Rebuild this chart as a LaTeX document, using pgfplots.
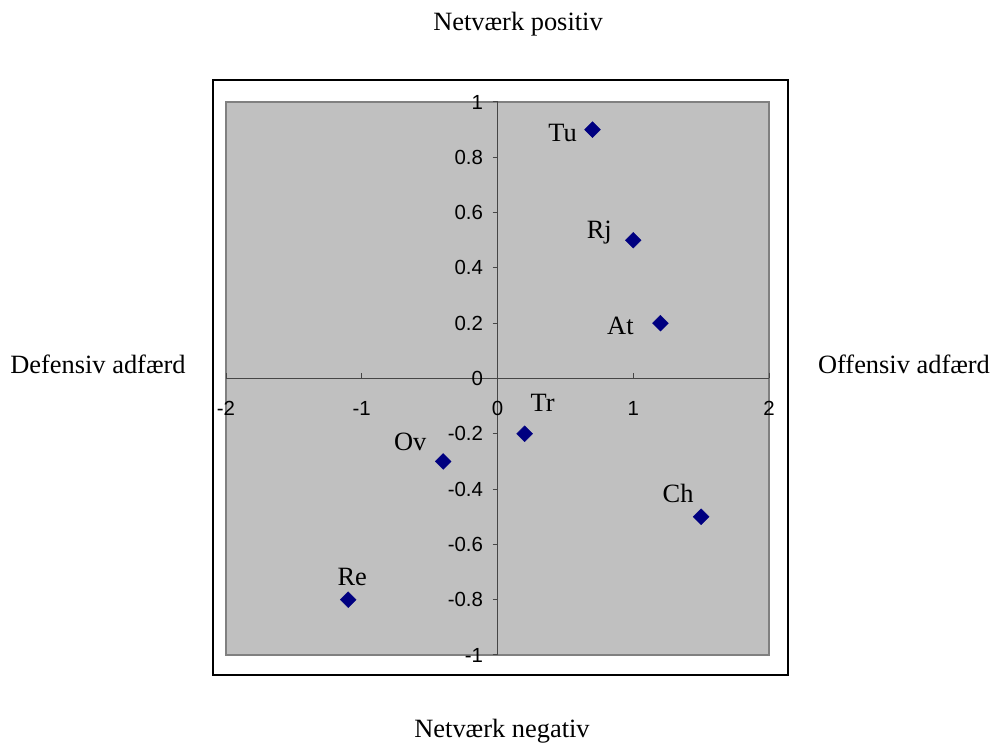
\documentclass[border=0pt]{standalone}
\usepackage{pgfplots}
\pgfplotsset{compat=1.18}
\usepackage{fontspec}
\setmainfont{Liberation Serif}
\newfontfamily\arial{Liberation Sans}
\definecolor{plotgray}{RGB}{192,192,192}
\definecolor{bordergray}{RGB}{128,128,128}
\definecolor{axisgray}{RGB}{70,70,70}
\definecolor{navymark}{RGB}{0,0,128}
\begin{document}
\begin{tikzpicture}[x=1bp,y=1bp]
\begin{axis}[
  at={(226bp,89bp)}, anchor=south west,
  scale only axis, width=543bp, height=553bp,
  xmin=-2, xmax=2, ymin=-1, ymax=1,
  axis lines=center,
  axis line style={axisgray, line width=1.2bp, -},
  axis background/.style={fill=plotgray, draw=bordergray, line width=2bp},
  xtick={-2,-1,0,1,2},
  ytick={-1,-0.8,-0.6,-0.4,-0.2,0,0.2,0.4,0.6,0.8,1},
  extra x ticks={0},
  extra y ticks={0},
  tick align=inside,
  major tick length=5bp,
  tick style={axisgray, line width=1bp},
  ytick style={xshift=-5bp},
  /pgf/number format/assume math mode=true,
  ticklabel style={font=\arial\fontsize{20.5}{20.5}\selectfont, text=black},
  xticklabel style={anchor=north, yshift=-19bp},
  yticklabel style={anchor=east, xshift=-11bp},
  yticklabel={\pgfmathprintnumber[fixed,precision=1]{\tick}},
  clip=false,
]
\addplot[only marks, mark=square*, mark size=5.6bp, mark options={rotate=45, fill=navymark, draw=navymark}]
  coordinates {(0.7,0.9) (1.0,0.5) (1.2,0.2) (0.2,-0.2) (-0.4,-0.3) (1.5,-0.5) (-1.1,-0.8)};
\begin{scope}[every node/.style={font=\fontsize{26.5}{26.5}\selectfont}]
\node[xshift=-30bp, yshift=-3bp] at (axis cs:0.7,0.9) {Tu};
\node[xshift=-34bp, yshift=8bp] at (axis cs:1.0,0.5) {Rj};
\node[xshift=-40bp, yshift=-3bp] at (axis cs:1.2,0.2) {At};
\node[xshift=18bp, yshift=31bp] at (axis cs:0.2,-0.2) {Tr};
\node[xshift=-33bp, yshift=20bp] at (axis cs:-0.4,-0.3) {Ov};
\node[xshift=-23bp, yshift=23bp] at (axis cs:1.5,-0.5) {Ch};
\node[xshift=4bp, yshift=23bp] at (axis cs:-1.1,-0.8) {Re};
\end{scope}
\end{axis}
\draw[black, line width=1.5bp] (213,69) rectangle (788,664);
\begin{scope}[every node/.style={font=\fontsize{26.5}{26.5}\selectfont}]
\node at (518,720) {Netværk positiv};
\node at (502,13) {Netværk negativ};
\node at (98,380) {Defensiv adfærd};
\node at (904,380) {Offensiv adfærd};
\end{scope}
\pgfresetboundingbox
\path (0,0) rectangle (992,744);
\end{tikzpicture}
\end{document}
